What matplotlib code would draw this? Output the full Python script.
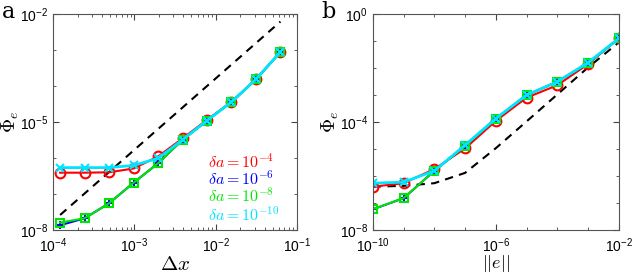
import numpy as np
import matplotlib
matplotlib.use("Agg")
from matplotlib import pyplot as plt
from matplotlib.ticker import LogLocator, FuncFormatter, NullFormatter

plt.rcParams["mathtext.fontset"] = "cm"
plt.rcParams["font.family"] = "sans-serif"
plt.rcParams["font.sans-serif"] = ["Liberation Sans", "DejaVu Sans"]

# panel a data
dx = [1.22e-4, 2.44e-4, 4.88e-4, 9.77e-4, 1.95e-3, 3.91e-3, 7.81e-3, 1.56e-2, 3.13e-2, 6.25e-2]
a_red = [3.9e-7, 3.9e-7, 4.0e-7, 5.1e-7, 1.1e-6, 3.5e-6, 1.15e-5, 3.6e-5, 1.55e-4, 8.9e-4]
a_blue = [1.35e-8, 2.1e-8, 5.5e-8, 2.05e-7, 7.1e-7, 3.2e-6, 1.1e-5, 3.6e-5, 1.55e-4, 8.9e-4]
a_green = [1.6e-8, 2.1e-8, 5.5e-8, 2.05e-7, 7.1e-7, 3.2e-6, 1.1e-5, 3.6e-5, 1.55e-4, 8.9e-4]
a_cyan = [5.4e-7, 5.4e-7, 5.4e-7, 6.2e-7, 9.8e-7, 3.2e-6, 1.1e-5, 3.6e-5, 1.55e-4, 8.9e-4]
a_dash_x = [1.22e-4, 6.25e-2]
a_dash_y = [2.6e-8, 6.2e-3]

# panel b data
en = [1e-10, 1e-9, 1e-8, 1e-7, 1e-6, 1e-5, 1e-4, 1e-3, 1e-2]
b_red = [4.0e-7, 5.4e-7, 1.8e-6, 1.05e-5, 1.1e-4, 8.0e-4, 2.3e-3, 1.4e-2, 1.25e-1]
b_blue = [5.8e-8, 1.5e-7, 1.55e-6, 1.3e-5, 1.3e-4, 1.0e-3, 3.1e-3, 1.5e-2, 1.25e-1]
b_green = [5.9e-8, 1.5e-7, 1.55e-6, 1.3e-5, 1.3e-4, 1.0e-3, 3.1e-3, 1.5e-2, 1.25e-1]
b_cyan = [5.4e-7, 5.9e-7, 1.55e-6, 1.4e-5, 1.35e-4, 1.0e-3, 3.1e-3, 1.6e-2, 1.25e-1]
b_dash = [4.0e-7, 4.3e-7, 5.4e-7, 1.3e-6, 1.07e-5, 1.05e-4, 1.05e-3, 1.05e-2, 8.9e-2]

labels = [r"$\delta a = 10^{-4}$", r"$\delta a = 10^{-6}$",
          r"$\delta a = 10^{-8}$", r"$\delta a = 10^{-10}$"]
colors = ["#ff0000", "#0000ff", "#00e600", "#00e5ff"]

fig = plt.figure(figsize=(6.32, 2.77), dpi=100)
ax1 = fig.add_axes([0.084, 0.170, 0.386, 0.779])
ax2 = fig.add_axes([0.590, 0.170, 0.389, 0.779])


def pow_label(v, pos):
    return r"$\mathregular{10^{%d}}$" % int(round(np.log10(v)))


def draw_series(ax, x, ys, dash_x, dash_y):
    ax.plot(dash_x, dash_y, "k--", lw=1.5, dashes=(4, 3))
    ax.plot(x, ys[0], "-o", color=colors[0], lw=1.5, ms=7, mfc="none", mew=1.5)
    ax.plot(x, ys[1], "-+", color=colors[1], lw=1.5, ms=6, mew=1.5)
    ax.plot(x, ys[2], "-s", color=colors[2], lw=1.5, ms=6, mfc="none", mew=1.5)
    ax.plot(x, ys[3], "-x", color=colors[3], lw=2.0, ms=6, mew=1.5)


def style_axis(ax):
    ax.set_xscale("log")
    ax.set_yscale("log")
    ax.tick_params(which="both", direction="in", top=True, right=True,
                   labelsize=10, colors="#444444", labelcolor="black")
    ax.tick_params(which="major", length=4)
    ax.tick_params(which="minor", length=2)
    ax.tick_params(axis="x", pad=5)
    for s in ax.spines.values():
        s.set_color("#555555")
        s.set_linewidth(0.8)
    ax.xaxis.set_major_formatter(FuncFormatter(pow_label))
    ax.yaxis.set_major_formatter(FuncFormatter(pow_label))
    ax.yaxis.set_minor_locator(LogLocator(base=10, subs=[1.0], numticks=20))
    ax.yaxis.set_minor_formatter(NullFormatter())
    ax.xaxis.set_minor_formatter(NullFormatter())


# a
draw_series(ax1, dx, [a_red, a_blue, a_green, a_cyan], a_dash_x, a_dash_y)
style_axis(ax1)
ax1.set_xlim(1e-4, 1e-1)
ax1.set_ylim(1e-8, 1e-2)
ax1.set_xticks([1e-4, 1e-3, 1e-2, 1e-1])
ax1.xaxis.set_minor_locator(LogLocator(base=10, subs=np.arange(2, 10), numticks=20))
ax1.set_yticks([1e-8, 1e-5, 1e-2])
ax1.set_xlabel(r"$\Delta x$", fontsize=15, labelpad=0)
ax1.set_ylabel(r"$\Phi_e$", fontsize=14)
ax1.yaxis.set_label_coords(-0.13, 0.5)
ty = [0.318, 0.236, 0.158, 0.073]
for lab, c, yy in zip(labels, colors, ty):
    ax1.text(0.635, yy, lab, color=c, fontsize=11.5, transform=ax1.transAxes,
             va="center", ha="left")
fig.text(0.003, 0.955, "a", fontsize=16, family="DejaVu Serif", va="center")

# b
draw_series(ax2, en, [b_red, b_blue, b_green, b_cyan], en, b_dash)
style_axis(ax2)
ax2.set_xlim(1e-10, 1e-2)
ax2.set_ylim(1e-8, 1e0)
ax2.set_xticks([1e-10, 1e-6, 1e-2])
ax2.xaxis.set_minor_locator(LogLocator(base=10, subs=[1.0], numticks=20))
ax2.set_yticks([1e-8, 1e-4, 1e0])
ax2.set_xlabel(r"$||e||$", fontsize=13)
ax2.xaxis.set_label_coords(0.5, -0.107)
ax2.set_ylabel(r"$\Phi_e$", fontsize=14)
ax2.yaxis.set_label_coords(-0.13, 0.5)
fig.text(0.508, 0.955, "b", fontsize=16, family="DejaVu Serif", va="center")

fig.savefig("out.png", dpi=100)
